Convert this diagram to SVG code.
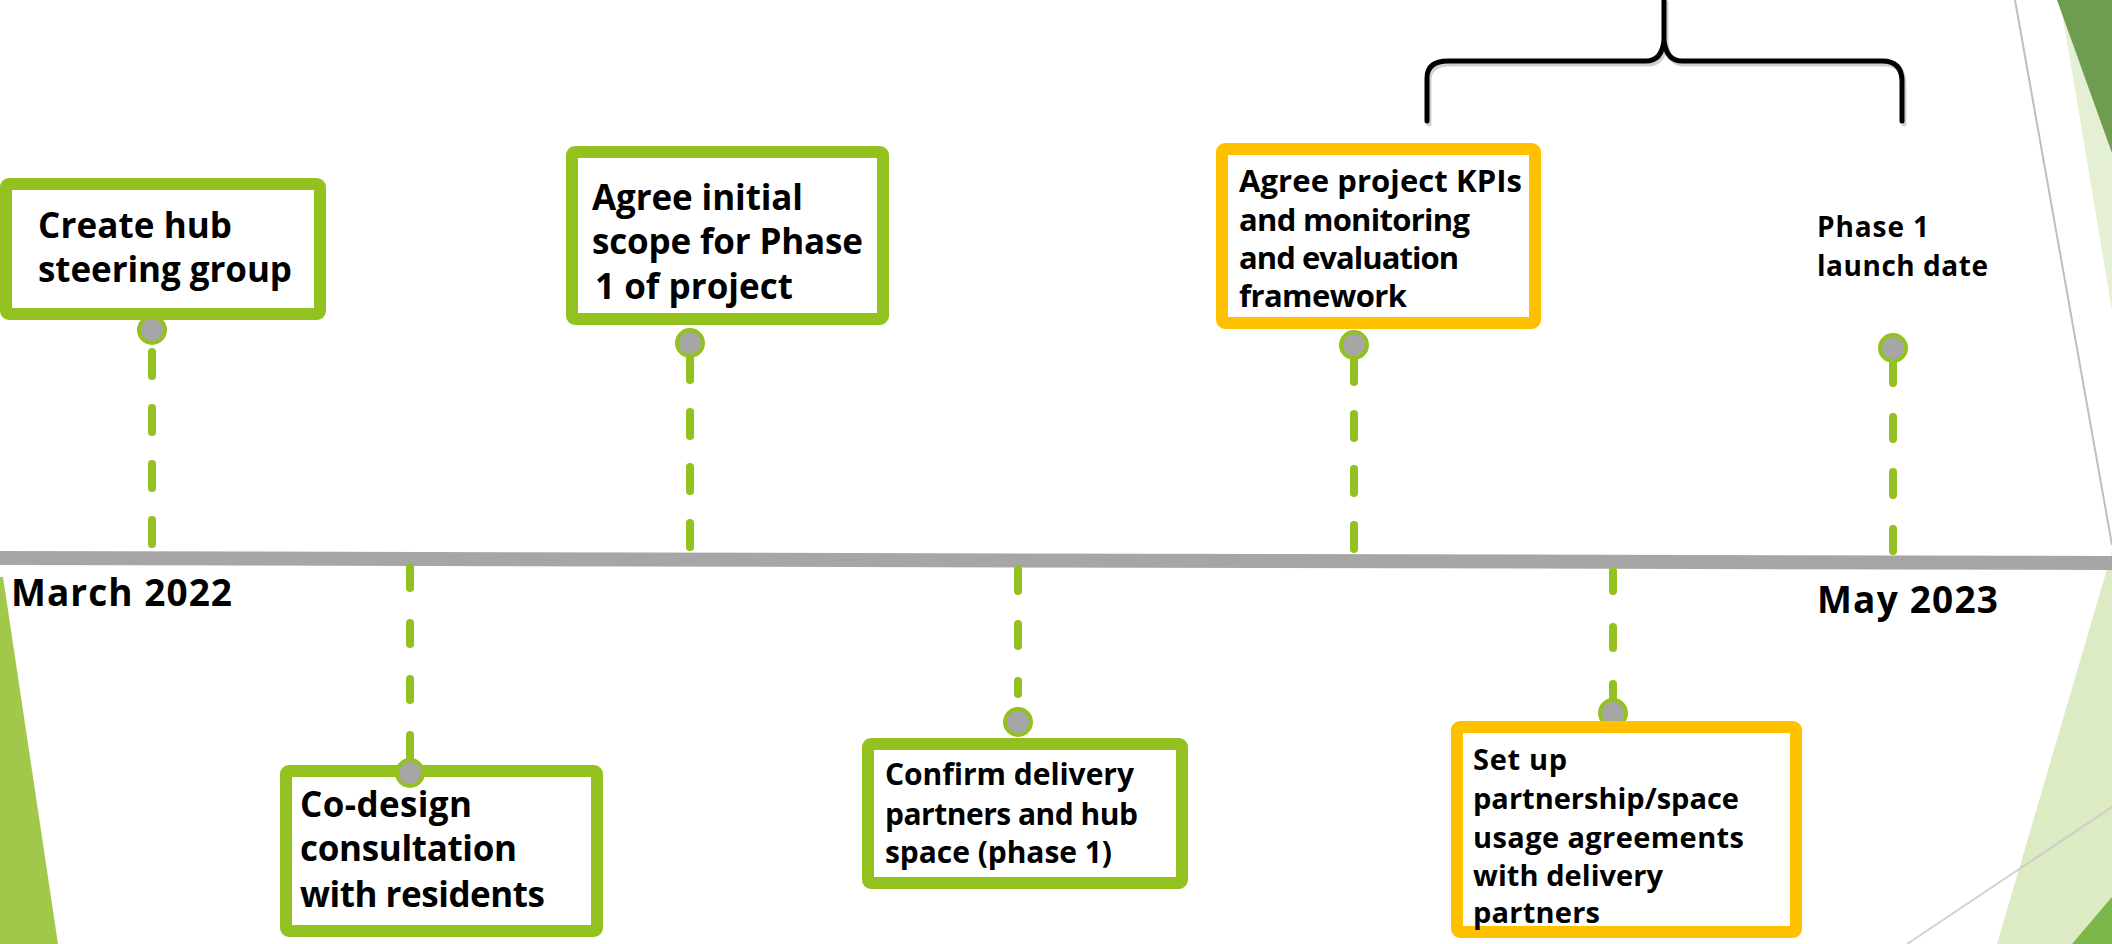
<svg xmlns="http://www.w3.org/2000/svg" width="2112" height="944" viewBox="0 0 2112 944">
  <style>
    .box { fill: #ffffff; stroke: #92C120; stroke-width: 12; }
    .box.orange { stroke: #FFC000; }
    .t { font-family: "Open Sans", "Liberation Sans", sans-serif; font-weight: 700; fill: #000000; }
    .dot { fill: #A6A6A6; stroke: #92C120; stroke-width: 4; }
    .dash { stroke: #92C120; stroke-width: 8; stroke-linecap: round; fill: none; }
  </style>
  <rect x="0" y="0" width="2112" height="944" fill="#ffffff"/>

  <g id="background">
    <polygon points="0,577 3,577 58,944 0,944" fill="#A1C84A"/>
    <polygon points="2060,0 2112,0 2112,310" fill="#E5EFD4"/>
    <polygon points="2057,0 2112,0 2112,153" fill="#6F9C50"/>
    <line x1="2015" y1="0" x2="2112" y2="545" stroke="#BFBFBF" stroke-width="2"/>
    <polygon points="2112,552 1997,944 2112,944" fill="#DDEBC4"/>
    <polygon points="2072,944 2112,897 2112,944" fill="#7AB648"/>
    <line x1="1907" y1="944" x2="2112" y2="807" stroke="#C8C8C8" stroke-width="2" opacity="0.8"/>
  </g>

  <g id="timeline">
    <line x1="0" y1="558" x2="2112" y2="563" stroke="#A6A6A6" stroke-width="14"/>
    <text class="t" x="11" y="606" font-size="37" textLength="221" lengthAdjust="spacing">March 2022</text>
    <text class="t" x="1817" y="613" font-size="37" textLength="181" lengthAdjust="spacing">May 2023</text>
  </g>

  <g id="brace">
    <path d="M1429,124 L1429,80 Q1429,64 1450,64 L1648,64 Q1664,64 1666,42 L1666,3 M1666,42 Q1668,64 1684,64 L1884,64 Q1904,64 1904,84 L1904,124" fill="none" stroke="#999999" stroke-opacity="0.45" stroke-width="5" stroke-linecap="round" stroke-linejoin="round"/>
    <path d="M1427,121 L1427,78 Q1427,61 1448,61 L1646,61 Q1662,61 1664,40 L1664,0 M1664,40 Q1666,61 1682,61 L1882,61 Q1902,61 1902,81 L1902,121" fill="none" stroke="#000000" stroke-width="5" stroke-linecap="round" stroke-linejoin="round"/>
  </g>

  <g id="connectors">
    <path class="dash" d="M152,352 V376 M152,408 V432 M152,464 V488 M152,520 V544"/>
    <path class="dash" d="M690,343 V380 M690,412 V436 M690,467 V491 M690,523 V547"/>
    <path class="dash" d="M1354,345 V382 M1354,414 V438 M1354,469 V493 M1354,525 V549"/>
    <path class="dash" d="M1893,348 V383 M1893,417 V439 M1893,472 V495 M1893,529 V551"/>
    <path class="dash" d="M410,567 V588 M410,623 V644 M410,679 V700 M410,735 V773"/>
    <path class="dash" d="M1018,569 V591 M1018,624 V646 M1018,681 V694"/>
    <path class="dash" d="M1613,571 V591 M1613,627 V648 M1613,684 V713"/>
  </g>

  <g id="node-create-hub">
    <rect class="box" x="6" y="184" width="314" height="130" rx="3"/>
    <text class="t" font-size="35"><tspan x="38" y="238" textLength="194" lengthAdjust="spacing">Create hub</tspan><tspan x="38" y="282" textLength="254" lengthAdjust="spacing">steering group</tspan></text>
    <circle class="dot" cx="152" cy="330" r="13"/>
  </g>

  <g id="node-agree-scope">
    <rect class="box" x="572" y="152" width="311" height="167" rx="3"/>
    <text class="t" font-size="35"><tspan x="592" y="210" textLength="211" lengthAdjust="spacing">Agree initial</tspan><tspan x="592" y="254" textLength="271" lengthAdjust="spacing">scope for Phase</tspan><tspan x="595" y="299" textLength="198" lengthAdjust="spacing">1 of project</tspan></text>
    <circle class="dot" cx="690" cy="343" r="13"/>
  </g>

  <g id="node-codesign">
    <rect class="box" x="286" y="771" width="311" height="160" rx="3"/>
    <circle class="dot" cx="410" cy="773" r="13"/>
    <text class="t" font-size="35"><tspan x="300" y="817" textLength="172" lengthAdjust="spacing">Co-design</tspan><tspan x="300" y="861" textLength="217" lengthAdjust="spacing">consultation</tspan><tspan x="300" y="907" textLength="245" lengthAdjust="spacing">with residents</tspan></text>
  </g>

  <g id="node-confirm-delivery">
    <circle class="dot" cx="1018" cy="722" r="13"/>
    <rect class="box" x="868" y="744" width="314" height="139" rx="3"/>
    <text class="t" font-size="30"><tspan x="885" y="785" textLength="249" lengthAdjust="spacing">Confirm delivery</tspan><tspan x="885" y="825" textLength="253" lengthAdjust="spacing">partners and hub</tspan><tspan x="885" y="863" textLength="227" lengthAdjust="spacing">space (phase 1)</tspan></text>
  </g>

  <g id="node-kpis">
    <rect class="box orange" x="1222" y="149" width="313" height="174" rx="3"/>
    <text class="t" font-size="31"><tspan x="1239" y="192" textLength="283" lengthAdjust="spacing">Agree project KPIs</tspan><tspan x="1239" y="231" textLength="231" lengthAdjust="spacing">and monitoring</tspan><tspan x="1239" y="269" textLength="220" lengthAdjust="spacing">and evaluation</tspan><tspan x="1239" y="307" textLength="168" lengthAdjust="spacing">framework</tspan></text>
    <circle class="dot" cx="1354" cy="345" r="13"/>
  </g>

  <g id="node-launch">
    <text class="t" font-size="28"><tspan x="1817" y="237" textLength="112" lengthAdjust="spacing">Phase 1</tspan><tspan x="1817" y="276" textLength="171" lengthAdjust="spacing">launch date</tspan></text>
    <circle class="dot" cx="1893" cy="348" r="13"/>
  </g>

  <g id="node-setup-partnership">
    <circle class="dot" cx="1613" cy="713" r="13"/>
    <rect class="box orange" x="1457" y="727" width="339" height="205" rx="3"/>
    <text class="t" font-size="29"><tspan x="1473" y="770" textLength="94" lengthAdjust="spacing">Set up</tspan><tspan x="1473" y="809" textLength="266" lengthAdjust="spacing">partnership/space</tspan><tspan x="1473" y="848" textLength="271" lengthAdjust="spacing">usage agreements</tspan><tspan x="1473" y="886" textLength="190" lengthAdjust="spacing">with delivery</tspan><tspan x="1473" y="923" textLength="127" lengthAdjust="spacing">partners</tspan></text>
  </g>
</svg>
